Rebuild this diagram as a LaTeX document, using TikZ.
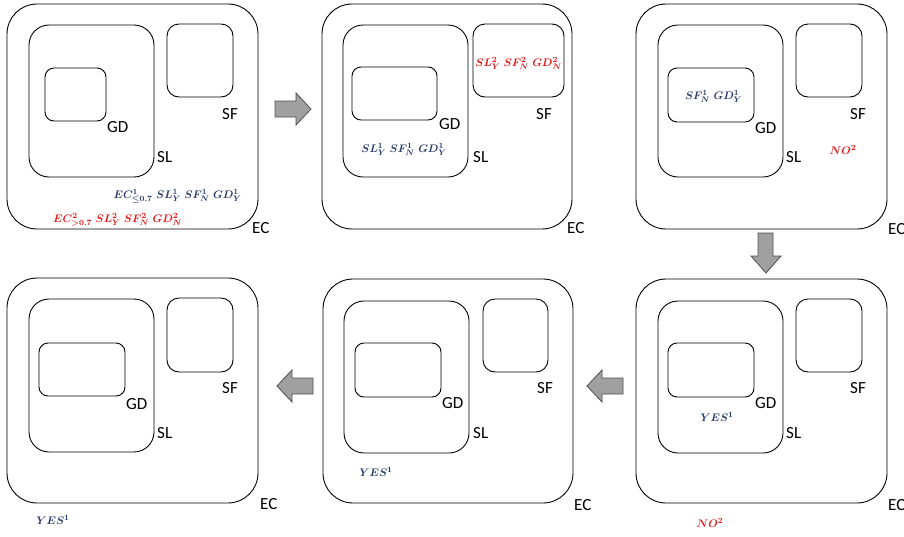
\documentclass[tikz,border=0pt]{standalone}
\usepackage{fontspec}
\setmainfont{Carlito}
\usetikzlibrary{fit}
\definecolor{bluetxt}{RGB}{38,58,105}
\definecolor{redtxt}{RGB}{235,20,20}
\definecolor{arrfill}{RGB}{160,160,160}
\definecolor{arrline}{RGB}{80,80,80}
\tikzset{
  barrow/.pic={\draw[line width=0.8pt, draw=arrline, fill=arrfill]
    (0,-8) -- (21,-8) -- (21,-16) -- (36,0) -- (21,16) -- (21,8) -- (0,8) -- cycle;}
}
\begin{document}
\begin{tikzpicture}[x=1pt,y=-1pt,
  box/.style={draw, line width=0.9pt, inner sep=0pt, outer sep=0pt},
  ecbox/.style={box, rounded corners=30pt},
  slbox/.style={box, rounded corners=20pt},
  gdbox/.style={box, rounded corners=9pt},
  sfbox/.style={box, rounded corners=12pt},
  lbl/.style={anchor=base west, inner sep=0pt, font=\fontsize{17}{20}\selectfont},
  mt/.style={anchor=base, inner sep=0pt, font=\fontsize{11}{13}\selectfont\boldmath},
  bluet/.style={mt, text=bluetxt},
  redt/.style={mt, text=redtxt}]
\useasboundingbox (0,0) rectangle (904,536);

% ---------- panel 1
\node[ecbox, fit={(7,4) (258,229)}] (ec1) {};
\node[slbox, fit={(29,25) (154,177)}] (sl1) {};
\node[gdbox, fit={(45,68) (106,121)}] (gd1) {};
\node[sfbox, fit={(167,24) (233,97)}] (sf1) {};
\node[lbl] (gdl1) at (107,132) {GD};
\node[lbl] (sll1) at (157,162) {SL};
\node[lbl] (sfl1) at (222,119) {SF};
\node[lbl] (ecl1) at (252,233) {EC};
\node[bluet] (t1a) at (177.5,198) {$EC^{1}_{\le 0.7}\; SL^{1}_{Y}\; SF^{1}_{N}\; GD^{1}_{Y}$};
\node[redt] (t1b) at (117.5,222) {$EC^{2}_{>0.7}\; SL^{2}_{Y}\; SF^{2}_{N}\; GD^{2}_{N}$};

% ---------- panel 2
\node[ecbox, fit={(322,4) (572,229)}] (ec2) {};
\node[slbox, fit={(343,25) (468,177)}] (sl2) {};
\node[gdbox, fit={(352,67) (437,120)}] (gd2) {};
\node[sfbox, fit={(473,24) (564,97)}] (sf2) {};
\node[lbl] (gdl2) at (439,129) {GD};
\node[lbl] (sll2) at (473,162) {SL};
\node[lbl] (sfl2) at (536,119) {SF};
\node[lbl] (ecl2) at (567,233) {EC};
\node[redt] (t2a) at (518.5,66) {$SL^{2}_{Y}\; SF^{2}_{N}\; GD^{2}_{N}$};
\node[bluet] (t2b) at (404,152) {$SL^{1}_{Y}\; SF^{1}_{N}\; GD^{1}_{Y}$};

% ---------- panel 3
\node[ecbox, fit={(636,4) (887,229)}] (ec3) {};
\node[slbox, fit={(658,25) (783,177)}] (sl3) {};
\node[gdbox, fit={(668,68) (754,122)}] (gd3) {};
\node[sfbox, fit={(796,24) (862,97)}] (sf3) {};
\node[lbl] (gdl3) at (755,133) {GD};
\node[lbl] (sll3) at (786,162) {SL};
\node[lbl] (sfl3) at (850,119) {SF};
\node[lbl] (ecl3) at (888,234) {EC};
\node[bluet] (t3a) at (713.5,99) {$SF^{1}_{N}\; GD^{1}_{Y}$};
\node[redt] (t3b) at (843,154) {$NO^{2}$};

% ---------- panel 4
\node[ecbox, fit={(7,278) (258,503)}] (ec4) {};
\node[slbox, fit={(29,299) (154,452)}] (sl4) {};
\node[gdbox, fit={(39,343) (125,396)}] (gd4) {};
\node[sfbox, fit={(167,298) (233,372)}] (sf4) {};
\node[lbl] (gdl4) at (126,409) {GD};
\node[lbl] (sll4) at (157,438) {SL};
\node[lbl] (sfl4) at (222,393) {SF};
\node[lbl] (ecl4) at (260,509) {EC};
\node[bluet] (t4a) at (53,524) {$YES^{1}$};

% ---------- panel 5
\node[ecbox, fit={(323,279) (573,503)}] (ec5) {};
\node[slbox, fit={(344,301) (469,453)}] (sl5) {};
\node[gdbox, fit={(355,343) (441,397)}] (gd5) {};
\node[sfbox, fit={(483,299) (548,372)}] (sf5) {};
\node[lbl] (gdl5) at (442,408) {GD};
\node[lbl] (sll5) at (473,438) {SL};
\node[lbl] (sfl5) at (537,393) {SF};
\node[lbl] (ecl5) at (574,510) {EC};
\node[bluet] (t5a) at (376,476) {$YES^{1}$};

% ---------- panel 6
\node[ecbox, fit={(636,279) (887,503)}] (ec6) {};
\node[slbox, fit={(658,301) (783,453)}] (sl6) {};
\node[gdbox, fit={(668,343) (754,397)}] (gd6) {};
\node[sfbox, fit={(796,299) (862,372)}] (sf6) {};
\node[lbl] (gdl6) at (755,408) {GD};
\node[lbl] (sll6) at (786,438) {SL};
\node[lbl] (sfl6) at (850,393) {SF};
\node[lbl] (ecl6) at (888,510) {EC};
\node[bluet] (t6a) at (717,421) {$YES^{1}$};
\node[redt] (t6b) at (710,527) {$NO^{2}$};

% ---------- block arrows
\pic at (275,109) {barrow};
\draw[line width=0.8pt, draw=arrline, fill=arrfill]
  (758,233) -- (773,233) -- (773,256) -- (781,256) -- (766,273) -- (751,256) -- (758,256) -- cycle;
\pic[rotate=180] at (623,386) {barrow};
\pic[rotate=180] at (313,386) {barrow};
\end{tikzpicture}
\end{document}
